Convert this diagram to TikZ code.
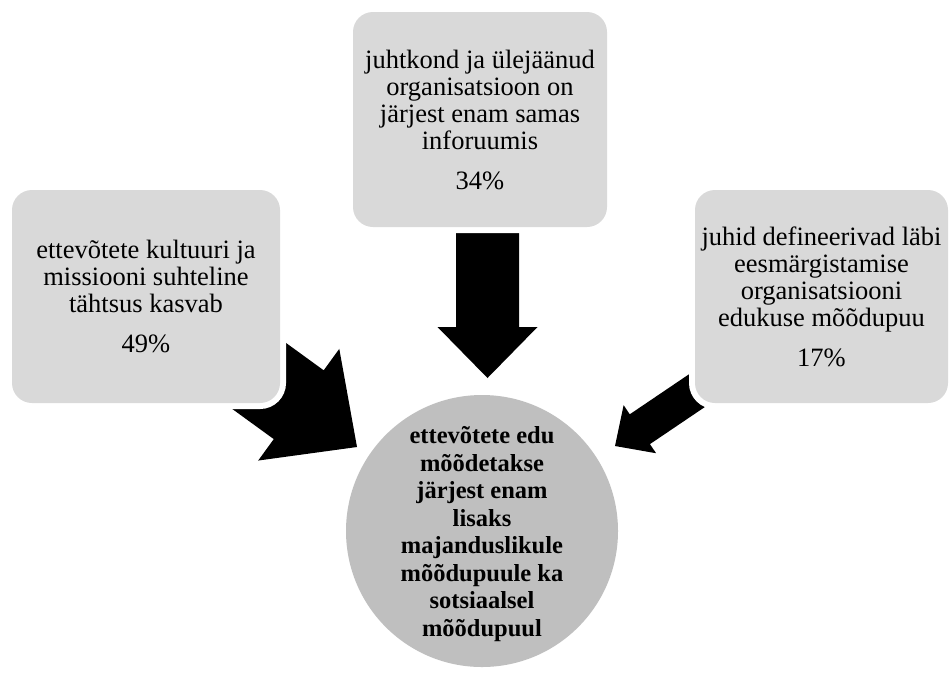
\documentclass[tikz,border=0pt]{standalone}
\usepackage{fontspec}
\setmainfont{Liberation Serif}
\usetikzlibrary{calc}

\definecolor{boxgray}{RGB}{217,217,217}
\definecolor{circlegray}{RGB}{191,191,191}

% block arrow: #1 tail, #2 tip, #3 half shaft width, #4 half head width, #5 head length
\newcommand\drawblockarrow[5]{%
  \path (#2) coordinate (ba-tip) ($(#2)!#5!(#1)$) coordinate (ba-neck);
  \fill[blockfill]
    ($(#1)!#3!90:(#2)$) -- ($(ba-neck)!#3!90:(ba-tip)$) -- ($(ba-neck)!#4!90:(ba-tip)$)
    -- (ba-tip)
    -- ($(ba-neck)!#4!-90:(ba-tip)$) -- ($(ba-neck)!#3!-90:(ba-tip)$) -- ($(#1)!#3!-90:(#2)$)
    -- cycle;}

\tikzset{
  blockfill/.style={fill=black},
  infobox/.style={rectangle, rounded corners=20pt, fill=boxgray, inner sep=0pt,
    preaction={draw=white, line width=12pt}, align=center,
    font=\fontsize{26.5}{27}\selectfont},
  hub/.style={circle, fill=circlegray, inner sep=0pt, minimum size=272pt,
    preaction={draw=white, line width=8pt}},
  hubtext/.style={align=center, font=\bfseries\fontsize{24.5}{27.5}\selectfont}
}

\begin{document}
\begin{tikzpicture}[x=1pt, y=-1pt]
\useasboundingbox (0,0) rectangle (952,673);

% arrow end points
\coordinate (topTail) at (487.5,200);
\coordinate (topTip) at (487.5,378);
\coordinate (leftTail) at (211,341);
\coordinate (leftTip) at (357,447);
\coordinate (rightTail) at (723,373);
\coordinate (rightTip) at (615,446);

% arrows (behind the boxes)
\drawblockarrow{topTail}{topTip}{31.5pt}{50pt}{51pt}
\drawblockarrow{leftTail}{leftTip}{42.5pt}{69pt}{72pt}
\drawblockarrow{rightTail}{rightTip}{18pt}{29pt}{30pt}

% boxes
\node[infobox, minimum width=254pt, minimum height=215pt] (topBox) at (480,119.5)
  {juhtkond ja ülejäänud\\organisatsioon on\\järjest enam samas\\inforuumis\\[13pt]34\%};
\node[infobox, minimum width=268pt, minimum height=213pt] (leftBox) at (146,296.5)
  {ettevõtete kultuuri ja\\missiooni suhteline\\tähtsus kasvab\\[13pt]49\%};
\node[infobox, minimum width=253pt, minimum height=213pt] (rightBox) at (821.5,296.5)
  {juhid defineerivad läbi\\eesmärgistamise\\organisatsiooni\\edukuse mõõdupuu\\[13pt]17\%};

% central circle
\node[hub] (hub) at (482,531) {};
\node[hubtext] (hubLabel) at (482,534)
  {ettevõtete edu\\mõõdetakse\\järjest enam\\lisaks\\majanduslikule\\mõõdupuule ka\\sotsiaalsel\\mõõdupuul};
\end{tikzpicture}
\end{document}
